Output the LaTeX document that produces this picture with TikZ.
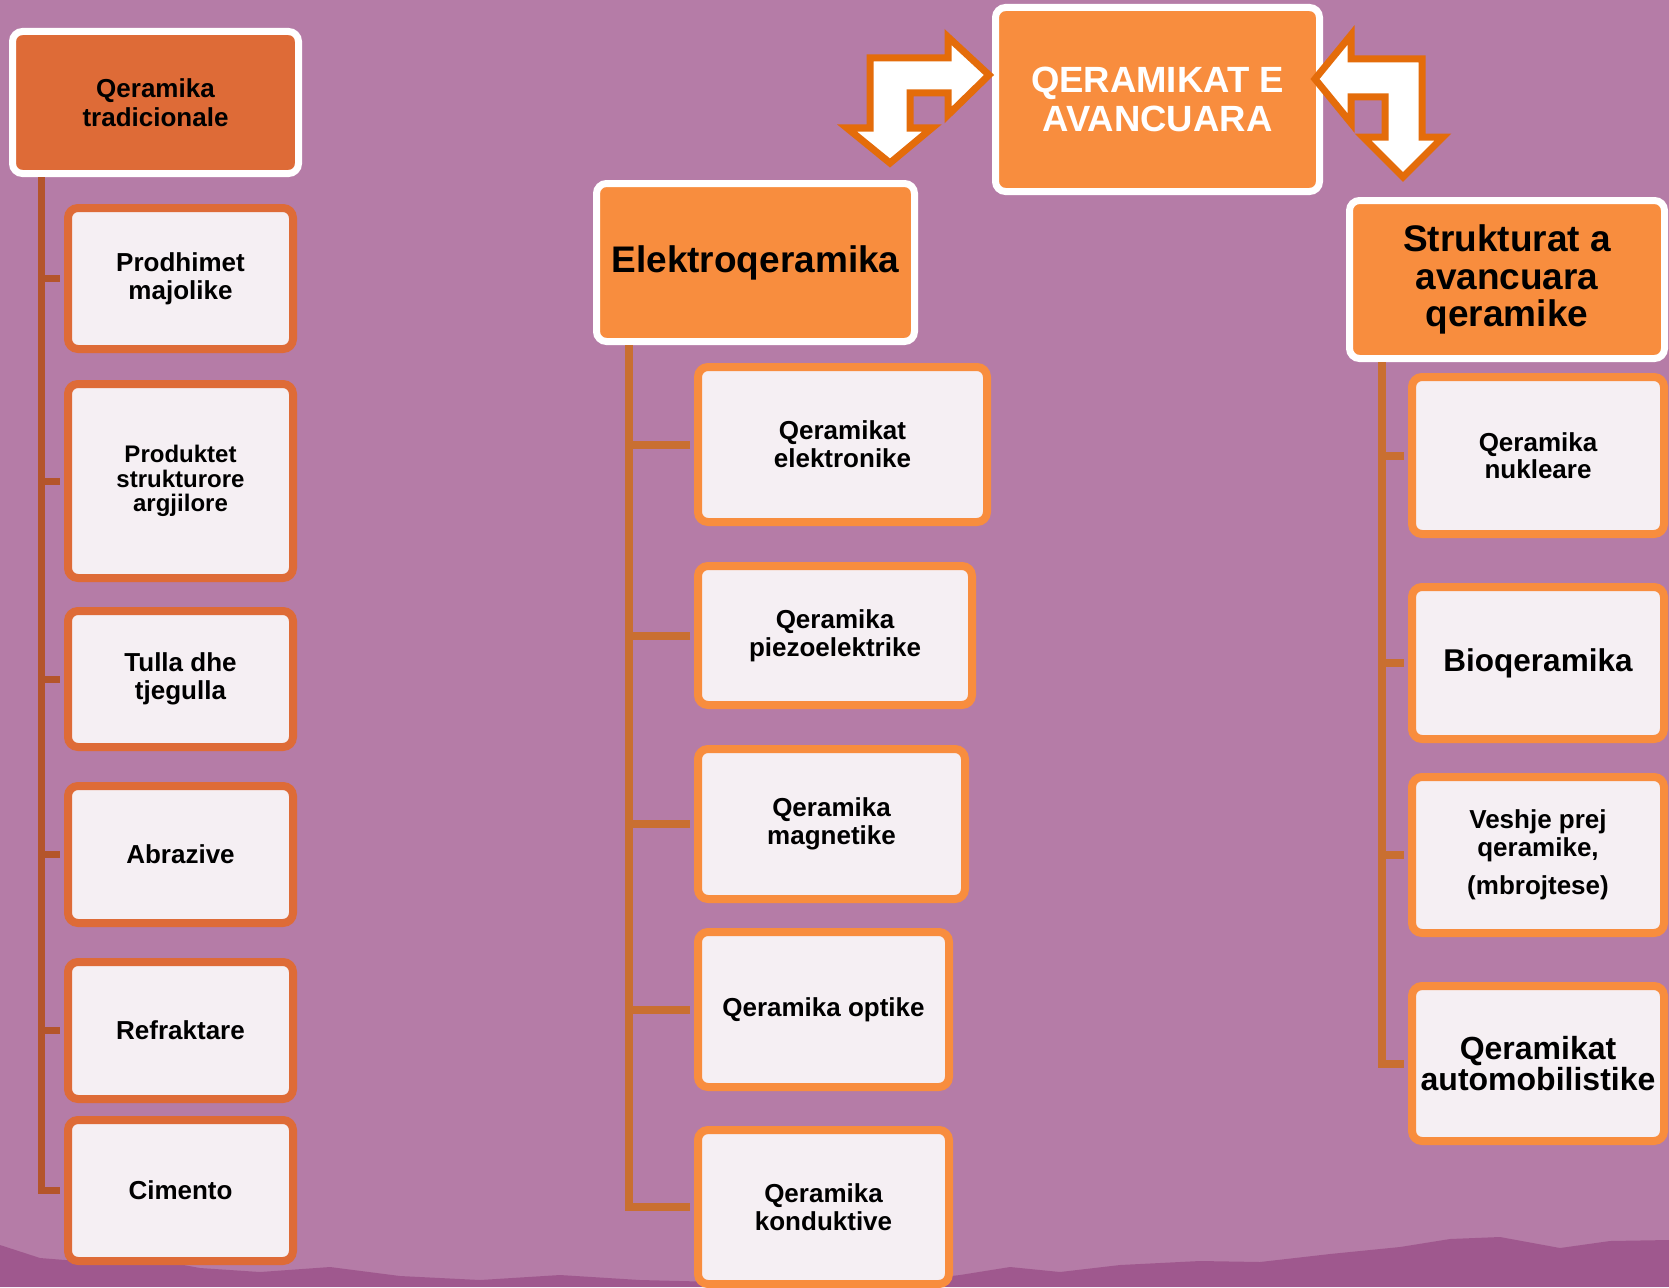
\documentclass[tikz,border=0pt]{standalone}
\usepackage{fontspec}
\setmainfont{Liberation Sans}
\usepackage{xcolor}

\definecolor{plum}{HTML}{B57CA7}
\definecolor{plumdark}{HTML}{8E3C7A}
\definecolor{tradorange}{HTML}{DE6B37}
\definecolor{tradbrown}{HTML}{B4552B}
\definecolor{advorange}{HTML}{F88D3E}
\definecolor{advbrown}{HTML}{C96F31}
\definecolor{boxwhite}{HTML}{F5EFF3}
\definecolor{arroworange}{HTML}{E46C0A}

\newcommand{\fsz}[2]{\fontsize{#1}{#2}\selectfont}

\tikzset{
  headbox/.style={draw=white, line width=7pt, rounded corners=10pt, inner sep=0pt, align=center},
  tradhead/.style={headbox, fill=tradorange},
  advhead/.style={headbox, fill=advorange},
  leafbox/.style={fill=boxwhite, line width=8pt, rounded corners=10pt, inner sep=0pt, align=center, font=\bfseries\fsz{26}{28}},
  tradleaf/.style={leafbox, draw=tradorange, minimum width=225pt},
  advleaf/.style={leafbox, draw=advorange},
  tradline/.style={draw=tradbrown, line width=7pt, shorten >=4pt},
  advline/.style={draw=advbrown, line width=8pt, shorten >=4pt},
  bentarrow/.style={draw=arroworange, fill=white, line width=7pt, line join=miter},
}

\begin{document}
\begin{tikzpicture}[x=1pt,y=-1pt]
		\useasboundingbox (0,0) rectangle (1669,1287);
		\fill[plum] (0,0) rectangle (1669,1287);% background
		\fill[plumdark, opacity=0.55] (0,1245) -- (40,1258) -- (90,1262) -- (140,1257) -- (200,1268) -- (260,1272)
			-- (330,1267) -- (400,1276) -- (480,1280) -- (560,1275) -- (640,1280) -- (720,1282) -- (800,1278)
			-- (900,1282) -- (960,1275) -- (1010,1267) -- (1060,1272) -- (1120,1265) -- (1200,1261) -- (1260,1262)
			-- (1330,1254) -- (1400,1247) -- (1450,1239) -- (1500,1237) -- (1560,1248) -- (1610,1241) -- (1669,1240)
			-- (1669,1287) -- (0,1287) -- cycle;% darker strip at the bottom

		% main title
		\node[advhead, text=white, minimum width=324pt, minimum height=184pt, font=\bfseries\fsz{36.5}{39}] (main) at (1157.5,99.5) {QERAMIKAT E\\AVANCUARA};

		% left column
		\node[tradhead, minimum width=286pt, minimum height=142pt, font=\bfseries\fsz{26}{29}] (trad) at (155.5,102.5) {Qeramika\\tradicionale};
		\node[tradleaf, minimum height=141pt] (tp1) at (180.5,278.5) {Prodhimet\\majolike};
		\node[tradleaf, minimum height=194pt, font=\bfseries\fsz{24}{24.5}] (tp2) at (180.5,481) {Produktet\\strukturore\\argjilore};
		\node[tradleaf, minimum height=136pt] (tp3) at (180.5,679) {Tulla dhe\\tjegulla};
		\node[tradleaf, minimum height=137pt] (tp4) at (180.5,854.5) {Abrazive};
		\node[tradleaf, minimum height=137pt] (tp5) at (180.5,1030.5) {Refraktare};
		\node[tradleaf, minimum height=141pt] (tp6) at (180.5,1190.5) {Cimento};

		% middle column
		\node[advhead, minimum width=318pt, minimum height=158pt, font=\bfseries\fsz{37}{40}] (elek) at (755.5,262.5) {Elektroqeramika};
		\node[advleaf, minimum width=289pt, minimum height=155pt] (ep1) at (842.5,444.5) {Qeramikat\\elektronike};
		\node[advleaf, minimum width=274pt, minimum height=139pt] (ep2) at (835,635.5) {Qeramika\\piezoelektrike};
		\node[advleaf, minimum width=267pt, minimum height=150pt] (ep3) at (831.5,824) {Qeramika\\magnetike};
		\node[advleaf, minimum width=251pt, minimum height=155pt] (ep4) at (823.5,1009.5) {Qeramika optike};
		\node[advleaf, minimum width=251pt, minimum height=154pt] (ep5) at (823.5,1207) {Qeramika\\konduktive};

		% right column
		\node[advhead, minimum width=315pt, minimum height=158pt, font=\bfseries\fsz{37}{37.5}] (strk) at (1507,279.5) {Strukturat a\\avancuara\\qeramike};
		\node[advleaf, minimum width=252pt, minimum height=157pt, font=\bfseries\fsz{26}{26.5}] (sp1) at (1538,455.5) {Qeramika\\nukleare};
		\node[advleaf, minimum width=252pt, minimum height=152pt, font=\bfseries\fsz{31.5}{34}] (sp2) at (1538,663) {Bioqeramika};
		\node[advleaf, minimum width=252pt, minimum height=156pt] (sp3) at (1538,855) {Veshje prej\\qeramike,\\[10pt](mbrojtese)};
		\node[advleaf, minimum width=252pt, minimum height=155pt, font=\bfseries\fsz{32}{30.5}] (sp4) at (1538,1063.5) {Qeramikat\\automobilistike};

		% stems and branches
		\coordinate (tradstem) at (41.5,177);
		\coordinate (elekstem) at (628.5,345);
		\coordinate (strkstem) at (1381.5,362);
		\foreach \n in {tp1,tp2,tp3,tp4,tp5,tp6}
			\draw[tradline] (tradstem) |- (\n.west);
		\foreach \n in {ep1,ep2,ep3,ep4,ep5}
			\draw[advline] (elekstem) |- (\n.west);
		\foreach \n in {sp1,sp2,sp3,sp4}
			\draw[advline] (strkstem) |- (\n.west);

		% bent arrows beside the title
		\draw[bentarrow] (989,75) -- (948,37) -- (948,58) -- (870,58) -- (870,128) -- (847,128) -- (890,163)
			-- (932,128) -- (910,128) -- (910,93) -- (948,93) -- (948,115) -- cycle;
		\draw[bentarrow] (1315,79) -- (1351,35) -- (1351,59) -- (1422,59) -- (1422,137) -- (1443,137) -- (1403,177)
			-- (1363,137) -- (1385,137) -- (1385,97) -- (1351,97) -- (1351,123) -- cycle;
\end{tikzpicture}
\end{document}
